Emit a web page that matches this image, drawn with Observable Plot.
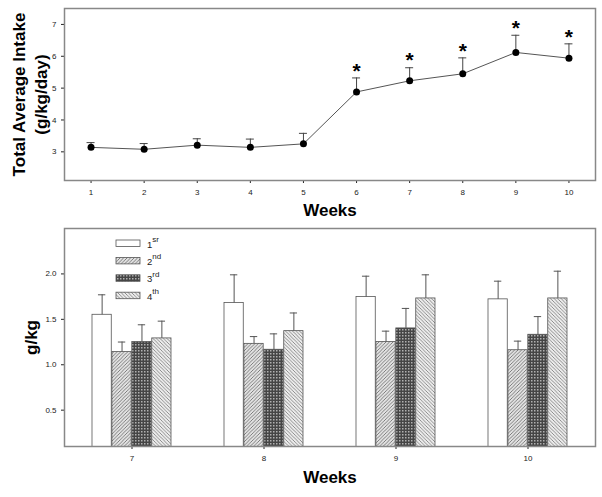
<!DOCTYPE html>
<html><head><meta charset="utf-8">
<script src="https://cdn.jsdelivr.net/npm/d3@7"></script>
<script src="https://cdn.jsdelivr.net/npm/@observablehq/plot@0.6"></script>
<style>
body{margin:0;background:#fff;}
#chart{width:602px;height:497px;position:relative;background:#fff;}
#chart svg{display:block;}
</style></head>
<body>
<svg width="0" height="0" style="position:absolute">
<defs>
<pattern id="pat2" patternUnits="userSpaceOnUse" width="3.5" height="3.5">
 <rect width="3.5" height="3.5" fill="#e2e2e2"/>
 <path d="M-1,1 l2,-2 M0,3.5 l3.5,-3.5 M2.5,4.5 l2,-2" stroke="#666" stroke-width="0.8"/>
</pattern>
<pattern id="pat3" patternUnits="userSpaceOnUse" width="3" height="3">
 <rect width="3" height="3" fill="#454545"/>
 <rect width="1.5" height="1.5" fill="#b0b0b0"/>
</pattern>
<pattern id="pat4" patternUnits="userSpaceOnUse" width="3.5" height="3.5">
 <rect width="3.5" height="3.5" fill="#ececec"/>
 <path d="M-1,2.5 l2,2 M0,0 l3.5,3.5 M2.5,-1 l2,2" stroke="#777" stroke-width="0.8"/>
</pattern>
</defs>
</svg>
<div id="chart"></div>
<script>
// ---- Top chart data ----
const weeks = [1, 2, 3, 4, 5, 6, 7, 8, 9, 10];
const intakeMean = [3.14, 3.08, 3.21, 3.14, 3.25, 4.88, 5.23, 5.45, 6.12, 5.94];
const intakeErr = [0.15, 0.18, 0.20, 0.26, 0.33, 0.44, 0.41, 0.50, 0.54, 0.45];
const significant = [false, false, false, false, false, true, true, true, true, true];
const topYTicks = [3, 4, 5, 6, 7];

// ---- Bottom chart data ----
const barWeeks = ["7", "8", "9", "10"];
const legendNum = ["1", "2", "3", "4"];
const legendSup = ["sr", "nd", "rd", "th"];
const firstMean = [1.55, 1.68, 1.745, 1.72];
const secondMean = [1.14, 1.23, 1.25, 1.16];
const thirdMean = [1.25, 1.165, 1.40, 1.33];
const fourthMean = [1.29, 1.37, 1.73, 1.73];
const firstErr = [0.22, 0.31, 0.23, 0.20];
const secondErr = [0.11, 0.08, 0.12, 0.10];
const thirdErr = [0.19, 0.175, 0.22, 0.20];
const fourthErr = [0.19, 0.20, 0.26, 0.30];
const bottomYTicks = [0.5, 1.0, 1.5, 2.0];

const fills = ["white", "url(#pat2)", "url(#pat3)", "url(#pat4)"];
const FONT = "'Liberation Sans', Arial, sans-serif";

const topData = weeks.map((w, i) => ({week: w, mean: intakeMean[i], upper: intakeMean[i] + intakeErr[i], sig: significant[i]}));

const topChart = Plot.plot({
  width: 602, height: 224,
  marginLeft: 64, marginRight: 7, marginTop: 8, marginBottom: 44,
  style: {fontFamily: FONT, fontSize: "8px", color: "#222", background: "white"},
  x: {domain: [0.5, 10.5]},
  y: {domain: [2.1, 7.5]},
  marks: [
    Plot.axisX({ticks: weeks, tickSize: 3, tickPadding: 6, label: null, tickFormat: d => String(d)}),
    Plot.axisY({ticks: topYTicks, tickSize: 3, tickPadding: 5, label: null, tickFormat: d => String(d)}),
    Plot.ruleX(topData, {x: "week", y1: "mean", y2: "upper", stroke: "#444", strokeWidth: 1}),
    Plot.ruleY(topData, {x1: "week", x2: "week", y: "upper", insetLeft: -4, insetRight: -4, stroke: "#444", strokeWidth: 1}),
    Plot.line(topData, {x: "week", y: "mean", stroke: "#555", strokeWidth: 1}),
    Plot.dot(topData, {x: "week", y: "mean", r: 3.5, fill: "black"}),
    Plot.text(topData.filter(d => d.sig), {x: "week", y: "upper", text: () => "*", dy: -7, fontSize: 21, fontWeight: "bold", fill: "black"}),
    Plot.text(["Weeks"], {frameAnchor: "bottom", dy: 35, fontSize: 17, fontWeight: "bold", fill: "black"}),
    Plot.text(["Total Average Intake\n(g/kg/day)"], {frameAnchor: "left", textAnchor: "middle", lineAnchor: "middle", rotate: -90, dx: -36, fontSize: 17, fontWeight: "bold", lineHeight: 1.3, fill: "black"}),
    Plot.frame({stroke: "#888", strokeWidth: 1.5})
  ]
});

// bottom
const means = [firstMean, secondMean, thirdMean, fourthMean];
const errs = [firstErr, secondErr, thirdErr, fourthErr];
const mL = 64, mR = 7;
const pInner = 0.4, pOuter = 0.2;
const step = (602 - mL - mR) / (barWeeks.length - pInner + 2 * pOuter);
const bw = step * (1 - pInner);
const barW = bw / 4;

const barMarks = [];
means.forEach((arr, i) => {
  const rows = barWeeks.map((w, j) => ({week: w, mean: arr[j], upper: arr[j] + errs[i][j]}));
  barMarks.push(Plot.barY(rows, {x: "week", y: "mean", fill: fills[i], stroke: "#555", strokeWidth: 0.8,
    insetLeft: i * barW, insetRight: (3 - i) * barW, clip: true}));
  barMarks.push(Plot.ruleX(rows, {x: "week", y1: "mean", y2: "upper", dx: (i - 1.5) * barW, stroke: "#555", strokeWidth: 1}));
  barMarks.push(Plot.tickY(rows, {x: "week", y: "upper", insetLeft: i * barW + barW / 2 - 4, insetRight: (3 - i) * barW + barW / 2 - 4, stroke: "#555", strokeWidth: 1}));
});

const bottomChart = Plot.plot({
  width: 602, height: 273,
  marginLeft: mL, marginRight: mR, marginTop: 4, marginBottom: 51,
  style: {fontFamily: FONT, fontSize: "8px", color: "#222", background: "white"},
  x: {type: "band", domain: barWeeks, paddingInner: pInner, paddingOuter: pOuter, align: 0.5},
  y: {domain: [0.1, 2.5]},
  marks: [
    Plot.axisX({tickSize: 3, tickPadding: 6, label: null}),
    Plot.axisY({ticks: bottomYTicks, tickSize: 3, tickPadding: 5, label: null, tickFormat: d3.format(".1f")}),
    ...barMarks,
    Plot.text(["Weeks"], {frameAnchor: "bottom", dy: 36, fontSize: 17, fontWeight: "bold", fill: "black"}),
    Plot.text(["g/kg"], {frameAnchor: "left", textAnchor: "middle", lineAnchor: "middle", rotate: -90, dx: -33, fontSize: 17, fontWeight: "bold", fill: "black"}),
    Plot.frame({stroke: "#888", strokeWidth: 1.5})
  ]
});

// legend inside the bottom chart
const lg = d3.select(bottomChart).append("g")
  .attr("font-family", FONT).attr("font-size", 9.5).attr("fill", "#222").attr("text-anchor", "start");
legendNum.forEach((n, i) => {
  const y = 16 + i * 17.4;
  lg.append("rect").attr("x", 116).attr("y", y).attr("width", 24).attr("height", 6.5)
    .attr("fill", fills[i]).attr("stroke", "#555").attr("stroke-width", 0.8);
  const t = lg.append("text").attr("x", 147).attr("y", y + 7.5);
  t.append("tspan").text(n);
  t.append("tspan").attr("dy", -5.5).attr("font-size", 8).text(legendSup[i]);
});

document.getElementById("chart").append(topChart, bottomChart);
</script>
</body></html>
